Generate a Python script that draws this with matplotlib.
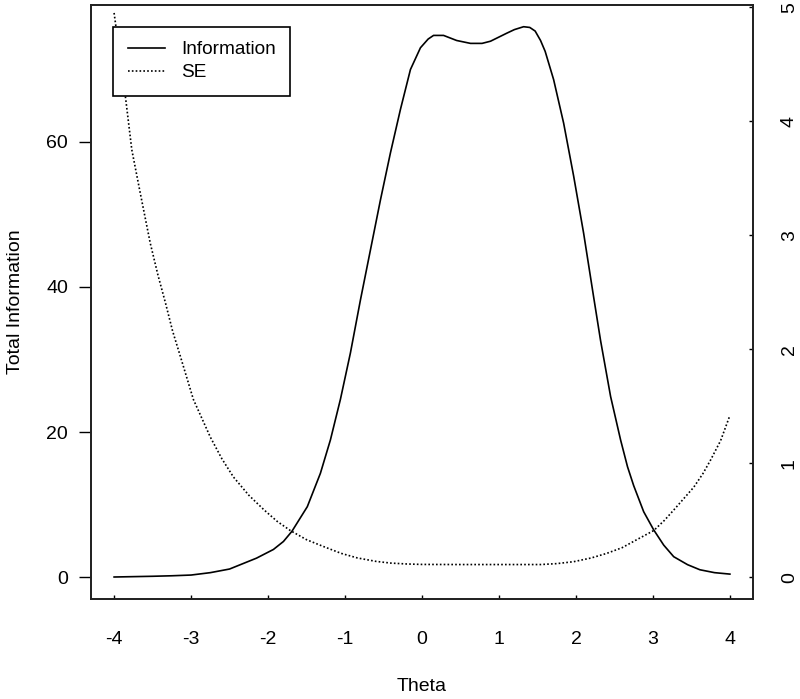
import matplotlib
matplotlib.use("Agg")
import matplotlib.pyplot as plt

plt.rcParams['font.family'] = ['Liberation Sans', 'DejaVu Sans']

# test information curve (left axis)
theta_info = [-4.0, -3.5, -3.25, -3.0, -2.75, -2.5, -2.36, -2.15, -1.93, -1.8,
              -1.69, -1.49, -1.32, -1.19, -1.06, -0.93, -0.8, -0.67, -0.54, -0.41,
              -0.28, -0.15, -0.02, 0.08, 0.15, 0.28, 0.45, 0.63, 0.78, 0.89,
              1.1, 1.2, 1.32, 1.4, 1.47, 1.54, 1.6, 1.71, 1.84, 1.97,
              2.1, 2.23, 2.32, 2.45, 2.58, 2.67, 2.75, 2.88, 3.01, 3.14,
              3.27, 3.45, 3.61, 3.8, 4.0]
info = [0.0, 0.1, 0.17, 0.27, 0.6, 1.1, 1.7, 2.6, 3.8, 4.9,
        6.3, 9.7, 14.3, 18.9, 24.5, 30.9, 38.2, 45.1, 52.0, 58.5,
        64.5, 70.0, 73.0, 74.2, 74.7, 74.7, 74.0, 73.6, 73.6, 73.9,
        75.0, 75.5, 75.9, 75.8, 75.3, 74.0, 72.5, 68.6, 62.6, 55.3,
        47.4, 38.6, 32.6, 24.9, 18.9, 15.2, 12.6, 9.0, 6.5, 4.4,
        2.8, 1.7, 1.0, 0.6, 0.4]

# standard error curve (right axis)
theta_se = [-4.0, -3.92, -3.85, -3.77, -3.66, -3.53, -3.43, -3.33, -3.24, -3.14,
            -2.97, -2.85, -2.75, -2.6, -2.45, -2.25, -2.05, -1.88, -1.71, -1.5,
            -1.28, -1.05, -0.84, -0.6, -0.41, -0.2, 0.0, 0.5, 1.0, 1.54, 1.75,
            1.97, 2.2, 2.4, 2.6, 2.79, 3.01, 3.15, 3.27, 3.4, 3.53, 3.65, 3.75,
            3.88, 4.0]
se = [4.95, 4.55, 4.2, 3.75, 3.37, 2.93, 2.65, 2.4, 2.16, 1.94,
      1.56, 1.38, 1.23, 1.04, 0.88, 0.72, 0.59, 0.49, 0.41, 0.33,
      0.27, 0.21, 0.17, 0.14, 0.125, 0.117, 0.113, 0.112, 0.112, 0.112, 0.12,
      0.137, 0.17, 0.21, 0.26, 0.33, 0.41, 0.5, 0.59, 0.69, 0.79, 0.91, 1.03,
      1.2, 1.42]

x_ticks = [-4, -3, -2, -1, 0, 1, 2, 3, 4]
left_ticks = [0, 20, 40, 60]
right_ticks = [0, 1, 2, 3, 4, 5]

fig = plt.figure(figsize=(8, 6.99), dpi=100)
ax = fig.add_axes([0.11375, 0.1431, 0.8275, 0.8498])
ax2 = ax.twinx()

l1, = ax.plot(theta_info, info, color='black', lw=1.2)
l2, = ax2.plot(theta_se, se, color='black', lw=1.2, linestyle=(0, (1, 1.3)))

ax.set_xlim(-4.3, 4.3)
ax.set_ylim(-3.03, 78.9)
ax2.set_ylim(-0.19, 5.02)

ax.set_xticks(x_ticks)
ax.set_xticklabels([str(t) for t in x_ticks])
ax.set_yticks(left_ticks)
ax2.set_yticks(right_ticks)

ax.tick_params(axis='x', direction='in', length=3, width=1, labelsize=14, pad=23)
ax.tick_params(axis='y', direction='out', length=8.5, width=1, labelsize=14, pad=8)
ax2.tick_params(axis='y', direction='in', length=3, width=1, labelsize=14,
                pad=20, labelrotation=90)
for lab in ax2.get_yticklabels():
    lab.set_va('center')

for a in (ax, ax2):
    for s in a.spines.values():
        s.set_linewidth(1.3)
        s.set_color('#222222')

ax.set_xlabel('Theta', fontsize=14, labelpad=22)
ax.set_ylabel('Total Information', fontsize=14, labelpad=16)

leg = ax2.legend([l1, l2], ['Information', 'SE'], loc='upper left',
                 bbox_to_anchor=(0.0337, 0.9635), borderaxespad=0,
                 fontsize=13.7, fancybox=False, framealpha=1, edgecolor='black',
                 handlelength=1.95, handletextpad=0.85, borderpad=0.75,
                 labelspacing=0.3)
leg.get_frame().set_linewidth(1.2)

fig.savefig('out.png', dpi=100)
